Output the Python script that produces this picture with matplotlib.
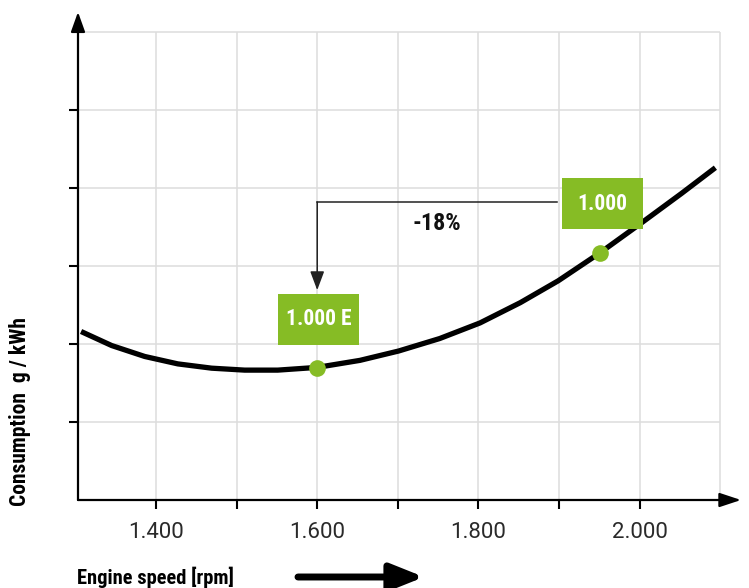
import matplotlib
matplotlib.use("Agg")
import matplotlib.pyplot as plt
from matplotlib.patches import Rectangle, FancyArrowPatch
from matplotlib import font_manager as fm

# ---- data ----
rpm = [1307, 1345, 1386, 1427, 1469, 1510, 1551, 1600, 1653, 1701, 1752,
       1802, 1852, 1899, 1951, 2002, 2052, 2094]
consumption = [2.16, 1.98, 1.84, 1.745, 1.69, 1.665, 1.665, 1.70, 1.79, 1.91,
               2.07, 2.27, 2.53, 2.81, 3.17, 3.55, 3.93, 4.26]
point_rpm = [1600, 1951]
point_cons = [1.69, 3.17]
point_labels = ["1.000 E", "1.000"]
xtick_major = [1400, 1600, 1800, 2000]
xtick_labels = ["1.400", "1.600", "1.800", "2.000"]
xtick_minor = [1500, 1700, 1900]
ygrid = [1, 2, 3, 4, 5, 6]
xgrid = [1400, 1500, 1600, 1700, 1800, 1900, 2000, 2100]
ytick = [1, 2, 3, 4, 5]
change_label = "-18%"

GREEN = "#86bc25"


def cond_bold(size):
    names = {f.name for f in fm.fontManager.ttflist}
    for n in ["Liberation Sans Narrow", "Roboto Condensed", "Open Sans Condensed", "Noto Sans Condensed"]:
        if n in names:
            return fm.FontProperties(family=n, weight="bold", size=size)
    for f in fm.fontManager.ttflist:
        if f.name == "DejaVu Sans" and "Condensed" in f.fname and "Bold" in f.fname and "Oblique" not in f.fname:
            return fm.FontProperties(fname=f.fname, size=size)
    return fm.FontProperties(family="DejaVu Sans", weight="bold", size=size)


TICKF = ["Roboto", "DejaVu Sans"]

W, H = 749, 588
fig = plt.figure(figsize=(W / 100, H / 100), dpi=100)
ax = fig.add_axes([78 / W, 88 / H, (741 - 78) / W, (500 - 12) / H])
ax.set_xlim(1303.2, 2125.8)
ax.set_ylim(0, 6.256)
for s in ax.spines.values():
    s.set_visible(False)

# grid
ax.hlines(ygrid, 1303.2, 2100, color="#dddddd", lw=1.1, zorder=0)
ax.vlines(xgrid, 0, 6, color="#dddddd", lw=1.1, zorder=0)

# axis arrows
ax.annotate("", xy=(1, 0), xytext=(0, 0), xycoords="axes fraction",
            arrowprops=dict(arrowstyle="-|>,head_length=1.3,head_width=0.43",
                            lw=1.6, color="black", shrinkA=0, shrinkB=0),
            annotation_clip=False)
ax.annotate("", xy=(0, 1), xytext=(0, 0), xycoords="axes fraction",
            arrowprops=dict(arrowstyle="-|>,head_length=1.2,head_width=0.43",
                            lw=1.6, color="black", shrinkA=0, shrinkB=0),
            annotation_clip=False)

# ticks
ax.set_xticks(xtick_major)
ax.set_xticklabels(xtick_labels, family=TICKF, fontsize=16, color="#2a2a2a")
ax.set_xticks(xtick_minor, minor=True)
ax.set_yticks(ytick)
ax.set_yticklabels([])
ax.tick_params(axis="both", which="both", direction="out", length=6.5, width=1.5, color="black")
ax.tick_params(axis="x", which="major", pad=9)

# curve
ax.plot(rpm, consumption, color="black", lw=3.8, solid_joinstyle="round",
        solid_capstyle="butt", zorder=3)
ax.plot(point_rpm, point_cons, "o", color=GREEN, ms=12, mec="none", zorder=4)

# label boxes
bw, bh, gap = 100.5, 0.654, 0.30
for x, y, lab in zip(point_rpm, point_cons, point_labels):
    x0 = x - bw / 2 + (3 if lab == "1.000" else 1.5)
    y0 = y + gap
    ax.add_patch(Rectangle((x0, y0), bw, bh, facecolor=GREEN, edgecolor="none", zorder=5))
    ax.text(x0 + bw / 2, y0 + bh / 2, lab, ha="center", va="center", color="white",
            fontproperties=cond_bold(15.5), zorder=6)

# -18% connector arrow
ax.plot([1897.5, 1600], [3.82, 3.82], color="#222222", lw=1.1, zorder=2)
ax.annotate("", xy=(1600, 2.69), xytext=(1600, 3.82),
            arrowprops=dict(arrowstyle="-|>,head_length=1.15,head_width=0.43",
                            lw=1.1, color="#222222", shrinkA=0, shrinkB=0), zorder=2)
ax.text(1749, 3.55, change_label, ha="center", va="center",
        fontproperties=cond_bold(17.5), color="#111111")

# axis titles
fig.text(20 / W, 1 - 412 / H, "Consumption  g / kWh", rotation=90, ha="center", va="center",
         fontproperties=cond_bold(15.5), color="black")
fig.text(77 / W, 1 - 577 / H, "Engine speed [rpm]", ha="left", va="center",
         fontproperties=cond_bold(14.8), color="black")
fig.patches.append(FancyArrowPatch(
    (298, H - 577), (424, H - 577), transform=None, figure=fig,
    arrowstyle="-|>,head_length=1.0,head_width=0.4", mutation_scale=20,
    lw=5, color="black", shrinkA=0, shrinkB=0))

fig.savefig("out.png", dpi=100)
